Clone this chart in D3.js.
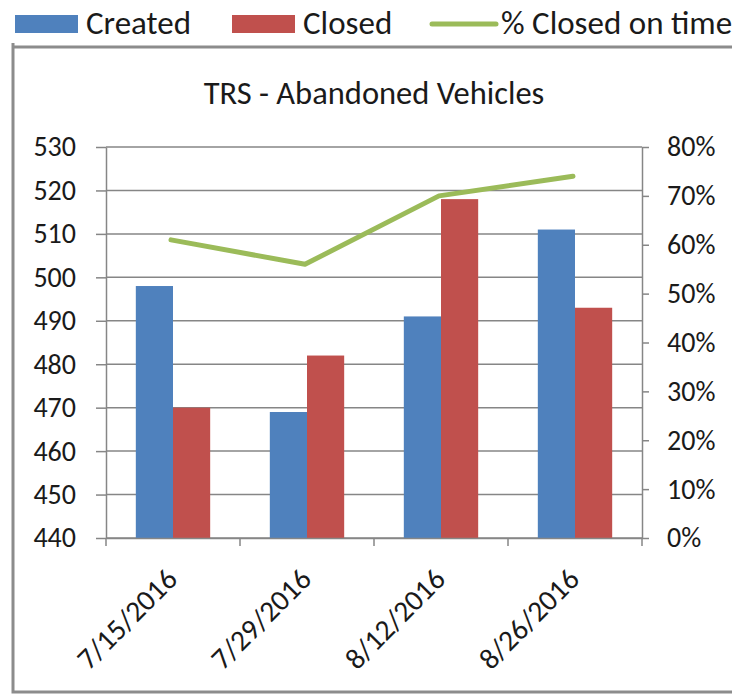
<!DOCTYPE html>
<html>
<head>
<meta charset="utf-8">
<script src="https://cdn.jsdelivr.net/npm/d3@7"></script>
<style>
  body { margin: 0; background: #fff; }
  svg { display: block; font-family: Carlito, "Liberation Sans Narrow", "Open Sans", sans-serif; }
</style>
</head>
<body>
<svg id="chart"></svg>
<script>
const dates = ['7/15/2016', '7/29/2016', '8/12/2016', '8/26/2016'];
const created = [498, 469, 491, 511];
const closed = [470, 482, 518, 493];
const onTime = [0.61, 0.56, 0.70, 0.74];
const leftTicks = [440, 450, 460, 470, 480, 490, 500, 510, 520, 530];
const rightTicks = [0, 0.1, 0.2, 0.3, 0.4, 0.5, 0.6, 0.7, 0.8];

const width = 732, height = 696;
const margin = {top: 147, right: 90, bottom: 158, left: 106};
const innerW = width - margin.left - margin.right;
const innerH = height - margin.top - margin.bottom;
const grey = '#868686';
const font = 'Carlito, "Liberation Sans Narrow", "Open Sans", sans-serif';

const svg = d3.select('#chart').attr('width', width).attr('height', height);

// frame
svg.append('path')
  .attr('d', 'M13,43 V692 H740 M13,47 H740')
  .attr('fill', 'none').attr('stroke', '#8c8c8c').attr('stroke-width', 3);

// legend
const legend = svg.append('g').attr('font-size', 33).attr('fill', '#1a1a1a');
legend.append('rect').attr('x', 15).attr('y', 15).attr('width', 63).attr('height', 18).attr('fill', '#4f81bd');
legend.append('text').attr('x', 86).attr('y', 34).text('Created');
legend.append('rect').attr('x', 232).attr('y', 15).attr('width', 63).attr('height', 18).attr('fill', '#c0504d');
legend.append('text').attr('x', 303).attr('y', 34).text('Closed');
legend.append('line').attr('x1', 432).attr('x2', 496).attr('y1', 24).attr('y2', 24)
  .attr('stroke', '#9bbb59').attr('stroke-width', 5).attr('stroke-linecap', 'round');
legend.append('text').attr('x', 501).attr('y', 34).text('% Closed on time');

// title
svg.append('text').attr('x', 374).attr('y', 104).attr('text-anchor', 'middle')
  .attr('font-size', 32.5).attr('fill', '#1a1a1a').text('TRS - Abandoned Vehicles');

const chart = svg.append('g').attr('transform', `translate(${margin.left},${margin.top})`);

const x0 = d3.scaleBand().domain(dates).range([0, innerW]).paddingInner(0.445).paddingOuter(0.2225);
const xFull = d3.scaleBand().domain(dates).range([0, innerW]);
const x1 = d3.scaleBand().domain(['created', 'closed']).range([0, x0.bandwidth()]);
const yL = d3.scaleLinear().domain([440, 530]).range([innerH, 0]);
const yR = d3.scaleLinear().domain([0, 0.8]).range([innerH, 0]);

// gridlines
chart.append('g').selectAll('line').data(leftTicks).enter().append('line')
  .attr('x1', 0).attr('x2', innerW)
  .attr('y1', d => yL(d)).attr('y2', d => yL(d))
  .attr('stroke', grey).attr('stroke-width', 1.5);

// bars
const series = [
  {key: 'created', values: created, color: '#4f81bd'},
  {key: 'closed', values: closed, color: '#c0504d'}
];
series.forEach(s => {
  chart.append('g').selectAll('rect').data(s.values).enter().append('rect')
    .attr('x', (d, i) => x0(dates[i]) + x1(s.key))
    .attr('y', d => yL(d))
    .attr('width', x1.bandwidth())
    .attr('height', d => innerH - yL(d))
    .attr('fill', s.color);
});

// axes
const styleAxis = g => {
  g.attr('font-family', font).attr('font-size', 28);
  g.select('.domain').attr('stroke', grey).attr('stroke-width', 1.5);
  g.selectAll('.tick line').attr('stroke', grey).attr('stroke-width', 1.5);
  g.selectAll('.tick text').attr('fill', '#1a1a1a');
};

chart.append('g')
  .call(d3.axisLeft(yL).tickValues(leftTicks).tickSize(10).tickSizeOuter(0).tickPadding(20))
  .call(styleAxis);

chart.append('g').attr('transform', `translate(${innerW},0)`)
  .call(d3.axisRight(yR).tickValues(rightTicks).tickFormat(d3.format('.0%')).tickSize(7).tickSizeOuter(0).tickPadding(18))
  .call(styleAxis);

const xAxis = chart.append('g').attr('transform', `translate(0,${innerH})`)
  .call(d3.axisBottom(xFull).tickSize(0).tickSizeOuter(0))
  .call(styleAxis);
xAxis.selectAll('.tick text')
  .attr('font-size', 29.5)
  .attr('text-anchor', 'end')
  .attr('y', 0).attr('dy', 0)
  .attr('transform', 'translate(6,43) rotate(-45)');
// category boundary ticks
chart.append('g').selectAll('line').data(dates.concat(['end'])).enter().append('line')
  .attr('x1', (d, i) => i * xFull.step()).attr('x2', (d, i) => i * xFull.step())
  .attr('y1', innerH).attr('y2', innerH + 8)
  .attr('stroke', grey).attr('stroke-width', 1.5);

// line
const line = d3.line()
  .x((d, i) => xFull(dates[i]) + xFull.bandwidth() / 2 - 2)
  .y(d => yR(d));
chart.append('path').datum(onTime)
  .attr('d', line)
  .attr('fill', 'none').attr('stroke', '#9bbb59').attr('stroke-width', 5)
  .attr('stroke-linecap', 'round').attr('stroke-linejoin', 'round');
</script>
</body>
</html>
